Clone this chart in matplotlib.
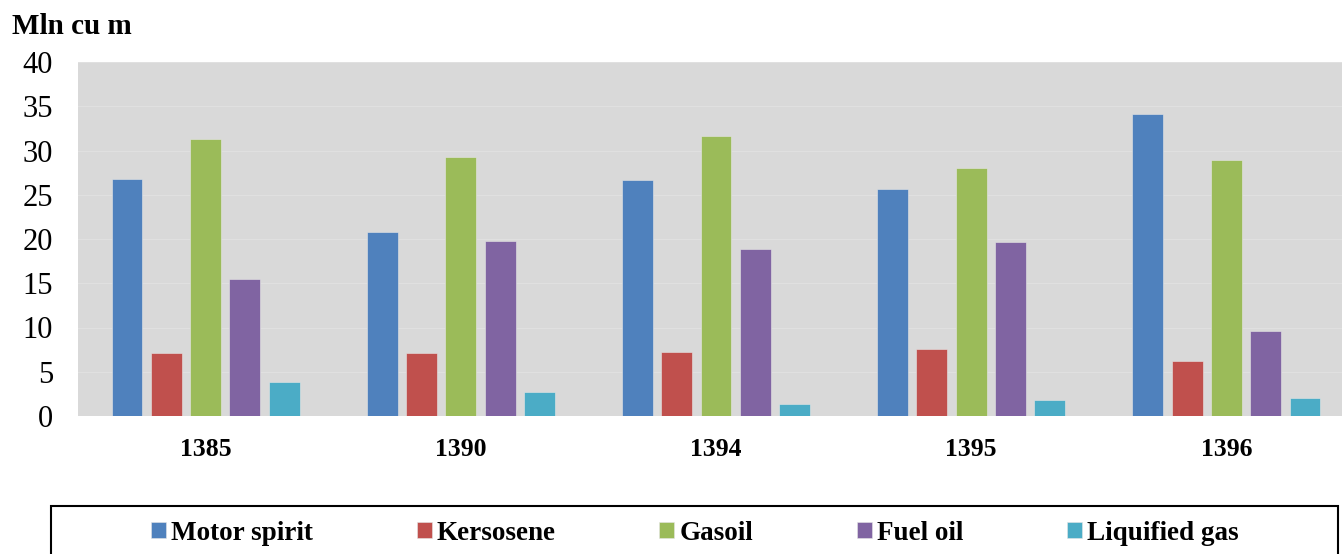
import matplotlib
matplotlib.use("Agg")
import matplotlib.pyplot as plt
from matplotlib.patches import Rectangle
import numpy as np

years = ["1385", "1390", "1394", "1395", "1396"]
series_names = ["Motor spirit", "Kersosene", "Gasoil", "Fuel oil", "Liquified gas"]
motor_spirit = [26.8, 20.8, 26.7, 25.6, 34.1]
kerosene = [7.1, 7.1, 7.2, 7.6, 6.2]
gasoil = [31.3, 29.3, 31.6, 28.0, 28.9]
fuel_oil = [15.5, 19.8, 18.9, 19.7, 9.6]
liquified_gas = [3.8, 2.7, 1.4, 1.8, 2.0]
y_ticks = [0, 5, 10, 15, 20, 25, 30, 35, 40]

colors = ["#4F81BD", "#C0504D", "#9BBB59", "#8064A2", "#4BACC6"]
all_series = [motor_spirit, kerosene, gasoil, fuel_oil, liquified_gas]

plt.rcParams['font.family'] = ['Liberation Serif', 'DejaVu Serif']

W, H = 1342, 554
fig = plt.figure(figsize=(W / 100, H / 100), dpi=100)
ax = fig.add_axes([78 / W, 1 - 416 / H, 1276 / W, (416 - 62) / H])
ax.set_facecolor("#D9D9D9")

x = np.arange(len(years))
pitch = 0.154
width = 0.121
for i, (name, vals, c) in enumerate(zip(series_names, all_series, colors)):
    ax.bar(x + (i - 2) * pitch, vals, width=width, color=c, label=name,
           edgecolor="#e6e6e6", linewidth=0.4, zorder=3)

ax.set_xlim(-0.5, len(years) - 0.5)
ax.set_ylim(0, 40)
ax.set_yticks(y_ticks)
ax.set_yticklabels([str(t) for t in y_ticks], fontsize=22)
ax.set_xticks(x)
ax.set_xticklabels(years, fontsize=18.5, fontweight="bold")
ax.tick_params(axis="y", length=0, pad=18)
ax.tick_params(axis="x", length=0, pad=16)
ax.grid(axis="y", color="#e0e0e0", linewidth=0.8, zorder=0)
for s in ax.spines.values():
    s.set_visible(False)

fig.text(12 / W, 1 - 34 / H, "Mln cu m", fontsize=21, fontweight="bold",
         ha="left", va="baseline")

# legend frame
rect = Rectangle((51 / W, -0.05), (1338 - 51) / W, 0.05 + (1 - 506 / H),
                 transform=fig.transFigure, fill=False, edgecolor="black",
                 linewidth=1.5)
fig.patches.append(rect)

handles, labels = ax.get_legend_handles_labels()
leg = fig.legend(handles, labels, loc="center", bbox_to_anchor=(695 / W, 1 - 533 / H),
                 ncol=5, frameon=False, prop={"size": 19.5, "weight": "bold"},
                 handlelength=0.55, handleheight=0.55, handletextpad=0.2,
                 columnspacing=3.82)

fig.savefig("out.png", dpi=100)
